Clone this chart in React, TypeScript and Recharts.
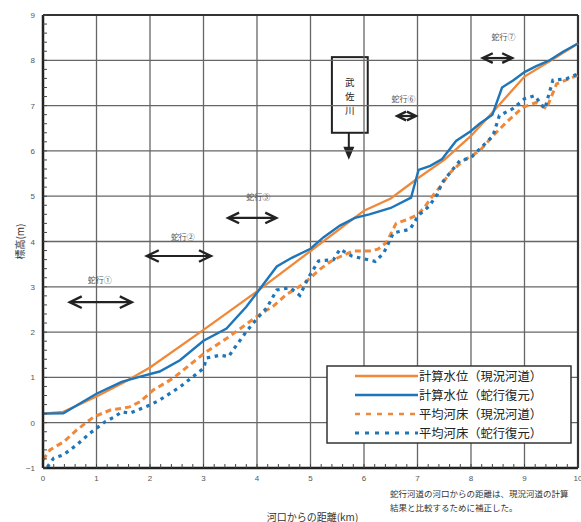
import React from 'react';
import { LineChart, Line, XAxis, YAxis, ReferenceLine, ReferenceArea } from 'recharts';

// 河口からの距離(km) / 標高(m)
const calcCurrentKm = [0, 0.38, 1.0, 1.5, 2.0, 3.0, 4.0, 5.0, 6.0, 6.5, 7.0, 7.5, 8.0, 8.5, 9.0, 9.5, 10];
const calcCurrentLevel = [0.2, 0.24, 0.58, 0.88, 1.22, 2.05, 2.9, 3.79, 4.68, 4.95, 5.39, 5.8, 6.33, 6.98, 7.64, 8.0, 8.37];

const calcRestoredKm = [0, 0.38, 1.0, 1.47, 1.8, 2.18, 2.56, 3.0, 3.43, 3.8, 4.02, 4.37, 4.65, 5.0, 5.24, 5.55, 5.83, 6.1, 6.5, 6.88, 7.02, 7.24, 7.46, 7.72, 8.0, 8.16, 8.4, 8.58, 8.78, 9.0, 9.22, 9.47, 9.72, 10];
const calcRestoredLevel = [0.2, 0.21, 0.64, 0.9, 1.01, 1.13, 1.38, 1.81, 2.08, 2.56, 2.9, 3.45, 3.64, 3.84, 4.09, 4.35, 4.52, 4.6, 4.74, 4.97, 5.58, 5.67, 5.82, 6.22, 6.44, 6.6, 6.8, 7.4, 7.55, 7.74, 7.87, 8.0, 8.19, 8.37];

const bedCurrentKm = [0, 0.13, 0.39, 0.63, 0.95, 1.26, 1.5, 1.62, 1.81, 2.06, 2.43, 3.01, 3.43, 3.61, 3.99, 4.3, 4.55, 4.8, 4.96, 5.18, 5.39, 5.58, 5.8, 6.1, 6.26, 6.42, 6.6, 6.8, 7.0, 7.12, 7.28, 7.43, 7.61, 7.85, 8.16, 8.41, 8.66, 8.97, 9.22, 9.41, 9.6, 10];
const bedCurrentLevel = [-0.82, -0.6, -0.42, -0.16, 0.13, 0.28, 0.32, 0.35, 0.46, 0.72, 0.98, 1.53, 1.86, 2.01, 2.34, 2.57, 2.83, 3.01, 3.16, 3.39, 3.57, 3.68, 3.79, 3.79, 3.83, 3.98, 4.4, 4.48, 4.59, 4.74, 5.0, 5.22, 5.52, 5.78, 6.0, 6.33, 6.63, 6.96, 7.07, 6.93, 7.48, 7.67];

const bedRestoredKm = [0.08, 0.2, 0.38, 0.63, 0.88, 1.16, 1.34, 1.47, 1.62, 2.0, 2.18, 2.56, 3.0, 3.06, 3.31, 3.47, 3.55, 3.8, 4.0, 4.18, 4.37, 4.62, 4.8, 4.96, 5.15, 5.43, 5.55, 5.77, 5.99, 6.21, 6.37, 6.55, 6.86, 7.02, 7.21, 7.37, 7.46, 7.61, 7.79, 8.0, 8.16, 8.41, 8.53, 8.78, 9.0, 9.19, 9.38, 9.53, 9.78, 10];
const bedRestoredLevel = [-0.98, -0.78, -0.71, -0.49, -0.23, 0.02, 0.13, 0.24, 0.21, 0.39, 0.5, 0.79, 1.2, 1.43, 1.49, 1.46, 1.6, 2.01, 2.3, 2.53, 2.93, 2.98, 2.81, 3.2, 3.57, 3.6, 3.83, 3.68, 3.62, 3.56, 3.75, 4.19, 4.27, 4.58, 4.77, 5.04, 5.3, 5.52, 5.78, 5.85, 6.04, 6.33, 6.78, 6.93, 7.15, 7.22, 6.93, 7.56, 7.59, 7.7];

const seriesNames = ['計算水位（現況河道）', '計算水位（蛇行復元）', '平均河床（現況河道）', '平均河床（蛇行復元）'];

const xLabels = [0, 1, 2, 3, 4, 5, 6, 7, 8, 9, 10];
const yLabels = [-1, 0, 1, 2, 3, 4, 5, 6, 7, 8, 9];

// 蛇行区間 (km from, km to, elevation)
const meanders = [
  { label: '蛇行①', from: 0.5, to: 1.66, y: 2.66, head: 12, dx: -1, dy: -23 },
  { label: '蛇行②', from: 1.94, to: 3.14, y: 3.68, head: 12, dx: 4, dy: -19 },
  { label: '蛇行③', from: 3.46, to: 4.36, y: 4.52, head: 11, dx: 6, dy: -21 },
  { label: '蛇行⑥', from: 6.62, to: 6.97, y: 6.77, head: 9, dx: -3, dy: -18 },
  { label: '蛇行⑦', from: 8.22, to: 8.77, y: 8.05, head: 10, dx: 6, dy: -22 },
];
const tributary = { name: '武佐川', x1: 5.4, x2: 6.07, y1: 6.4, y2: 8.07 };

const notes = ['蛇行河道の河口からの距離は、現況河道の計算', '結果と比較するために補正した。'];

const ORANGE = '#F0883A';
const BLUE = '#1E76BA';
const INK = '#222';
const JP = '"Noto Sans CJK JP", "Noto Sans", sans-serif';
const NUM = '"Liberation Sans", Arial, sans-serif';

const toPoints = (km: number[], v: number[]) => km.map((k, i) => ({ km: k, v: v[i] }));

const xTicks = Array.from({ length: 51 }, (_, i) => i / 5);
const yTicks = Array.from({ length: 51 }, (_, i) => i / 5 - 1);

const XTick = ({ x, y, payload }: any) =>
  Number.isInteger(payload.value) ? (
    <text x={x} y={y} dy={6} textAnchor="middle" fontSize={8} fill="#555" fontFamily={NUM}>{payload.value}</text>
  ) : <g />;

const YTick = ({ x, y, payload }: any) =>
  Number.isInteger(payload.value) ? (
    <text x={x} y={y} dy={3} textAnchor="end" fontSize={8} fill="#555" fontFamily={NUM}>
      {payload.value < 0 ? '−' + Math.abs(payload.value) : payload.value}
    </text>
  ) : <g />;

const arrowShape = (m: typeof meanders[number]) => (p: any) => {
  const { x1, y1, x2 } = p;
  const h = m.head;
  const w = h * 0.48;
  return (
    <g>
      <line x1={x1 + 1} y1={y1} x2={x2 - 1} y2={y1} stroke={INK} strokeWidth={2.2} />
      <polyline points={`${x1 + h},${y1 - w} ${x1},${y1} ${x1 + h},${y1 + w}`} fill="none" stroke={INK} strokeWidth={2.4} />
      <polyline points={`${x2 - h},${y1 - w} ${x2},${y1} ${x2 - h},${y1 + w}`} fill="none" stroke={INK} strokeWidth={2.4} />
      <text x={(x1 + x2) / 2 + m.dx} y={y1 + m.dy} textAnchor="middle" dominantBaseline="central" fontSize={8} fill="#555" fontFamily={JP}>{m.label}</text>
    </g>
  );
};

const TributaryShape = ({ x, y, width, height }: any) => {
  const cx = x + width / 2;
  const bottom = y + height;
  return (
    <g>
      <rect x={x} y={y} width={width} height={height} fill="#fff" stroke={INK} strokeWidth={2} />
      {tributary.name.split('').map((c, i) => (
        <text key={c} x={cx} y={y + 25 + i * 14} textAnchor="middle" dominantBaseline="central" fontSize={9.5} fill={INK} fontFamily={JP}>{c}</text>
      ))}
      <line x1={cx - 1} y1={bottom} x2={cx - 1} y2={bottom + 16} stroke={INK} strokeWidth={2} />
      <polygon points={`${cx - 6.5},${bottom + 14} ${cx + 4.5},${bottom + 14} ${cx - 1},${bottom + 27}`} fill={INK} />
    </g>
  );
};

const XTitle = ({ viewBox }: any) => {
  const { x, y, width } = viewBox;
  return (
    <g fontFamily={JP}>
      <text x={x + width / 2 + 2} y={y + 48} textAnchor="middle" dominantBaseline="central" fontSize={10} fill="#333">河口からの距離(km)</text>
      {notes.map((n, i) => (
        <text key={n} x={390} y={y + 25 + i * 14} dominantBaseline="central" fontSize={8.5} fill="#333">{n}</text>
      ))}
    </g>
  );
};

const YTitle = ({ viewBox }: any) => {
  const { y, height } = viewBox;
  const cy = y + height / 2;
  return (
    <text x={19} y={cy} transform={`rotate(-90 19 ${cy})`} textAnchor="middle" dominantBaseline="central" fontSize={10} fill="#333" fontFamily={JP}>標高(m)</text>
  );
};

const legendStyles = [
  { stroke: ORANGE, dash: undefined, width: 2.5 },
  { stroke: BLUE, dash: undefined, width: 2.5 },
  { stroke: ORANGE, dash: '5 6', width: 2.5 },
  { stroke: BLUE, dash: '4 6', width: 2.8 },
];

export default function App() {
  return (
    <div style={{ position: 'absolute', left: 0, top: 0, width: 581, height: 522, background: '#fff' }}>
      <LineChart width={581} height={522} margin={{ top: 15, right: 3, bottom: 0, left: 0 }}>
        <XAxis dataKey="km" type="number" domain={[0, 10]} ticks={xTicks} interval={0} height={54}
          tick={<XTick />} tickSize={-4} tickMargin={11} tickLine={{ stroke: '#444' }}
          axisLine={{ stroke: INK, strokeWidth: 2.5 }} label={<XTitle />} />
        <YAxis type="number" domain={[-1, 9]} ticks={yTicks} interval={0} width={43}
          tick={<YTick />} tickSize={-4} tickMargin={12} tickLine={{ stroke: '#444' }}
          axisLine={{ stroke: INK, strokeWidth: 2.5 }} label={<YTitle />} />
        {xLabels.slice(1, -1).map((k) => (
          <ReferenceLine key={'gx' + k} x={k} stroke="#666" strokeWidth={1.3} />
        ))}
        {yLabels.slice(1, -1).map((v) => (
          <ReferenceLine key={'gy' + v} y={v} stroke="#666" strokeWidth={1.3} />
        ))}
        <ReferenceLine y={9} stroke="#333" strokeWidth={2.2} />
        <ReferenceLine x={10} stroke="#333" strokeWidth={2.2} />
        <Line data={toPoints(calcCurrentKm, calcCurrentLevel)} dataKey="v" name={seriesNames[0]} type="linear"
          stroke={ORANGE} strokeWidth={2.3} dot={false} isAnimationActive={false} />
        <Line data={toPoints(calcRestoredKm, calcRestoredLevel)} dataKey="v" name={seriesNames[1]} type="linear"
          stroke={BLUE} strokeWidth={2.4} dot={false} isAnimationActive={false} />
        <Line data={toPoints(bedCurrentKm, bedCurrentLevel)} dataKey="v" name={seriesNames[2]} type="linear"
          stroke={ORANGE} strokeWidth={3} strokeDasharray="6 4" dot={false} isAnimationActive={false} />
        <Line data={toPoints(bedRestoredKm, bedRestoredLevel)} dataKey="v" name={seriesNames[3]} type="linear"
          stroke={BLUE} strokeWidth={3.2} strokeDasharray="3.5 4.5" dot={false} isAnimationActive={false} />
        {meanders.map((m) => (
          <ReferenceLine key={m.label} segment={[{ x: m.from, y: m.y }, { x: m.to, y: m.y }]} shape={arrowShape(m)} />
        ))}
        <ReferenceArea x1={tributary.x1} x2={tributary.x2} y1={tributary.y1} y2={tributary.y2} shape={<TributaryShape />} />
      </LineChart>
      <svg width={246} height={79} style={{ position: 'absolute', left: 326, top: 365 }}>
        <rect x={1} y={1} width={244} height={77} fill="#fff" stroke="#333" strokeWidth={1.5} />
        {seriesNames.map((name, i) => (
          <g key={name}>
            <line x1={29} x2={92} y1={11 + i * 19} y2={11 + i * 19} stroke={legendStyles[i].stroke}
              strokeWidth={legendStyles[i].width} strokeDasharray={legendStyles[i].dash} />
            <text x={93} y={11 + i * 19} dominantBaseline="central" fontSize={12.3} fill={INK} fontFamily={JP}>{name}</text>
          </g>
        ))}
      </svg>
    </div>
  );
}
